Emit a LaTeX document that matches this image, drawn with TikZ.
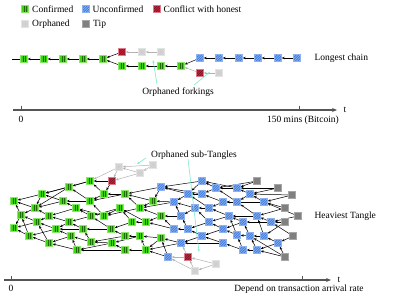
\documentclass[tikz,border=0pt]{standalone}
\usepackage{fontspec}
\setmainfont{Liberation Serif}
\usetikzlibrary{arrows.meta, positioning, backgrounds}

\definecolor{confgreen}{RGB}{60,215,10}
\definecolor{unconfblue}{RGB}{65,125,225}
\definecolor{conflred}{RGB}{200,35,60}
\definecolor{orphgrey}{RGB}{220,220,220}
\definecolor{tipgrey}{RGB}{128,128,128}
\definecolor{pointer}{RGB}{120,235,205}
\definecolor{axisgrey}{RGB}{85,85,85}

% stripes inside the squares
\newcommand{\vstripes}[1]{%
  \draw[#1, line width=0.6pt]
    ([xshift=-1.2pt]path picture bounding box.south) -- ([xshift=-1.2pt]path picture bounding box.north)
    ([xshift=1.2pt]path picture bounding box.south) -- ([xshift=1.2pt]path picture bounding box.north);}
\newcommand{\nehatch}[1]{%
  \foreach \s in {-5,-2.5,0,2.5,5}
    \draw[#1, line width=0.45pt]
      ([xshift=\s pt]path picture bounding box.south west) -- ([xshift=\s pt]path picture bounding box.north east);}
\newcommand{\nwhatch}[1]{%
  \foreach \s in {-5,-2.5,0,2.5,5}
    \draw[#1, line width=0.45pt]
      ([xshift=\s pt]path picture bounding box.south east) -- ([xshift=\s pt]path picture bounding box.north west);}

\begin{document}
\begin{tikzpicture}[x=1pt, y=-1pt,
  font=\fontsize{9.5}{11}\selectfont,
  blk/.style={rectangle, minimum size=7pt, inner sep=0pt, line width=0.4pt},
  conf/.style={blk, fill=confgreen, draw=confgreen!60!white,
               path picture={\vstripes{confgreen!50!black}}},
  unconf/.style={blk, fill=unconfblue, draw=unconfblue!60!white,
                 path picture={\nehatch{unconfblue!55!white}}},
  confl/.style={blk, fill=conflred, draw=conflred!60!white,
                path picture={\nehatch{conflred!55!black}}},
  orph/.style={blk, fill=orphgrey, draw=orphgrey!80!white,
               path picture={\nehatch{black!20}\nwhatch{black!20}}},
  tipbox/.style={blk, fill=tipgrey, draw=tipgrey!70!white},
  appr/.style={-{Stealth[length=3pt,width=2.4pt]}, line width=0.5pt},
  apprgrey/.style={appr, draw=black!30, -{Stealth[length=3pt,width=2.4pt,fill=black!30]}},
  pnt/.style={draw=pointer, line width=0.6pt, -{Stealth[length=3pt,width=2pt]}},
  axis/.style={draw=axisgrey, line width=1.2pt, -{Stealth[length=5pt,width=4pt]}}
]
\useasboundingbox (0,0) rectangle (398,297);

% legend
\node[conf]   (lconf)   at (25,9)    {};
\node[right=0pt of lconf]   (lconftxt)   {Confirmed};
\node[unconf] (lunconf) at (85.5,9)  {};
\node[right=0pt of lunconf] (lunconftxt) {Unconfirmed};
\node[confl]  (lconfl)  at (156.5,9) {};
\node[right=0pt of lconfl]  (lconfltxt)  {Conflict with honest};
\node[orph]   (lorph)   at (25,24)   {};
\node[right=0pt of lorph]   (lorphtxt)   {Orphaned};
\node[tipbox] (ltip)    at (86,24)   {};
\node[right=0pt of ltip]    (ltiptxt)    {Tip};

% longest chain
\foreach \n/\x/\y in {c1/24/59, c2/44/59, c3/63/59, c4/83/59, c5/103/59,
                      c6/122/66, c7/142/66, c8/161/66, c9/181/66}
  \node[conf] (\n) at (\x,\y) {};
\foreach \n/\x in {u1/200, u2/219, u3/239, u4/258, u5/278, u6/297}
  \node[unconf] (\n) at (\x,58) {};
\node[confl] (f1) at (122,52) {};
\node[orph]  (f2) at (142,52) {};
\node[orph]  (f3) at (161,52) {};
\node[confl] (f4) at (200,73) {};
\node[orph]  (f5) at (219,73) {};
\coordinate (c0) at (12,59);

\begin{scope}[on background layer]
  \draw[line width=0.5pt] (c0) -- (c1);
  \foreach \a/\b in {c2/c1, c3/c2, c4/c3, c5/c4, c6/c5, c7/c6, c8/c7, c9/c8,
                     u1/c9, u2/u1, u3/u2, u4/u3, u5/u4, u6/u5, f1/c5}
    \draw[appr] (\a) -- (\b);
  \foreach \a/\b in {f2/f1, f3/f2, f4/c9, f5/f4}
    \draw[apprgrey] (\a) -- (\b);
\end{scope}

\node[anchor=west] (lbllong) at (311,58) {Longest chain};
\node (lblfork) at (178,92) {Orphaned forkings};
\coordinate (pf1) at (157,84);
\coordinate (pf2) at (194,85);
\coordinate (pf1e) at (153,60);
\coordinate (pf2e) at (210,72);
\draw[pnt] (pf1) -- (pf1e);
\draw[pnt] (pf2) -- (pf2e);

% time axis (chain)
\coordinate (ax1s) at (13,110);
\coordinate (ax1e) at (337,110);
\coordinate (tk1a) at (21,110);
\coordinate (tk1b) at (299,110);
\draw[axis] (ax1s) -- (ax1e);
\draw[axisgrey, line width=0.8pt] (tk1a) -- ++(0,-4);
\draw[axisgrey, line width=0.8pt] (tk1b) -- ++(0,-4);
\node[right=3pt of ax1e] (t1lbl) {t};
\node[below=3pt of tk1a] (zero1) {0};
\node (lblbtc) at (303,120) {150 mins (Bitcoin)};

% tangle
\foreach \n/\x/\y in {g1/14/201, g2/14/228, g3/21/215, g4/29/236, g5/35/208,
    g6/37/222, g7/42/194, g8/49/216, g9/49/243, g10/56/229, g11/63/201,
    g12/69/187, g13/69/222, g14/71/236, g15/76/208, g16/77/250, g17/83/229,
    g18/90/181, g19/90/201, g20/91/216, g21/91/242, g22/104/194, g23/104/216,
    g24/111/229, g25/112/243, g26/120/208, g27/125/194, g28/125/236,
    g29/125/250, g30/132/222, g31/140/208, g32/140/236, g33/146/222,
    g34/146/250, g35/153/201, g36/161/216, g37/161/238}
  \node[conf] (\n) at (\x,\y) {};
\foreach \n/\x/\y in {b1/161/187, b2/168/257, b3/174/202, b4/174/229,
    b5/181/216, b6/181/243, b7/188/194, b8/188/229, b9/195/208, b10/202/181,
    b11/202/194, b12/202/236, b13/209/208, b14/209/222, b15/216/188,
    b16/223/202, b17/223/229, b18/223/243, b19/229/216, b20/237/188,
    b21/237/202, b22/237/235, b23/243/222, b24/243/250, b25/250/194,
    b26/250/236, b27/257/216, b28/257/250, b29/264/202, b30/264/236,
    b31/271/222, b32/278/243}
  \node[unconf] (\n) at (\x,\y) {};
\foreach \n/\x/\y in {t1/257/181, t2/278/188, t3/292/195, t4/285/208,
    t5/298/216, t6/285/222, t7/293/236, t8/285/257}
  \node[tipbox] (\n) at (\x,\y) {};
\node[confl] (r1) at (112,181) {};
\node[confl] (r2) at (188,257) {};
\node[orph]  (o1) at (119,167) {};
\node[orph]  (o2) at (140,173) {};
\node[orph]  (o3) at (153,165) {};
\node[orph]  (o4) at (216,264) {};
\node[orph]  (o5) at (195,271) {};

\begin{scope}[on background layer]
  \foreach \a/\b in {g3/g1, g3/g2, g5/g1, g5/g3, g7/g1, g7/g5, g6/g3, g6/g2,
      g4/g2, g4/g3, g8/g5, g8/g6, g9/g4, g9/g6, g10/g6, g10/g4, g11/g7,
      g11/g5, g12/g7, g12/g5, g13/g8, g13/g10, g14/g10, g14/g9, g15/g11,
      g15/g8, g16/g9, g16/g14, g17/g13, g17/g10, g18/g12, g18/g7, g19/g11,
      g19/g12, g20/g15, g20/g13, g21/g17, g21/g14, g22/g18, g22/g19,
      g23/g15, g23/g19, g24/g20, g24/g17, g25/g21, g25/g16, g26/g23,
      g26/g20, g27/g22, g27/g19, g28/g24, g28/g21, g29/g25, g29/g16,
      g30/g26, g30/g24, g31/g27, g31/g23, g32/g28, g32/g25, g33/g30,
      g33/g26, g34/g29, g34/g32, g35/g27, g35/g31, g36/g33, g36/g31,
      g37/g32, g37/g34}
    \draw[appr] (\a) -- (\b);
  \foreach \a/\b in {b1/g27, b1/g35, b2/g34, b2/g37, b3/g35, b3/g31, b4/g36,
      b4/g33, b5/g36, b5/b3, b6/g37, b6/g34, b7/b1, b7/b3, b8/b4, b8/b5,
      b9/b5, b9/b3, b10/b1, b10/b7, b11/b7, b11/b1, b12/b6, b12/b8, b13/b9,
      b13/b7, b14/b8, b14/b9, b15/b10, b15/b11, b16/b13, b16/b11, b17/b14,
      b17/b12, b18/b12, b18/b6, b19/b13, b19/b14, b20/b15, b20/b10,
      b21/b16, b21/b15, b22/b17, b22/b19, b23/b19, b23/b17, b24/b18,
      b24/b22, b25/b20, b25/b21, b26/b23, b26/b22, b27/b21, b27/b19,
      b28/b24, b28/b26, b29/b16, b29/b25, b30/b26, b30/b27, b31/b27,
      b31/b23, b32/b30, b32/b28}
    \draw[appr] (\a) -- (\b);
  \foreach \a/\b in {t1/b20, t1/b15, t2/b25, t2/b20, t3/b29, t3/b25, t4/b29,
      t4/b27, t5/b31, t5/b29, t6/b31, t6/b30, t7/b32, t7/b31, t8/b32,
      t8/b28, t8/b26, r1/g18, r1/g22}
    \draw[appr] (\a) -- (\b);
  \foreach \a/\b in {o1/g18, o1/r1, o2/o1, o2/r1, o3/o1, o3/o2,
      r2/b2, r2/b6, o4/r2, o4/o5, o5/b2, o5/r2}
    \draw[apprgrey] (\a) -- (\b);
\end{scope}

\node[anchor=west] (lblheavy) at (311,216) {Heaviest Tangle};
\node (lblsub) at (194,155) {Orphaned sub-Tangles};
\coordinate (ps1) at (146,158);
\coordinate (ps1e) at (137,164);
\coordinate (ps2) at (188,159);
\coordinate (ps2e) at (199,252);
\draw[pnt] (ps1) -- (ps1e);
\draw[pnt] (ps2) -- (ps2e);

% time axis (tangle)
\coordinate (ax2s) at (4,280);
\coordinate (ax2e) at (331,280);
\coordinate (tk2a) at (11,280);
\coordinate (tk2b) at (302,280);
\draw[axis] (ax2s) -- (ax2e);
\draw[axisgrey, line width=0.8pt] (tk2a) -- ++(0,-4);
\draw[axisgrey, line width=0.8pt] (tk2b) -- ++(0,-4);
\node[right=3pt of ax2e] (t2lbl) {t};
\node[below=2pt of tk2a] (zero2) {0};
\node (lblrate) at (299,289) {Depend on transaction arrival rate};
\end{tikzpicture}
\end{document}
